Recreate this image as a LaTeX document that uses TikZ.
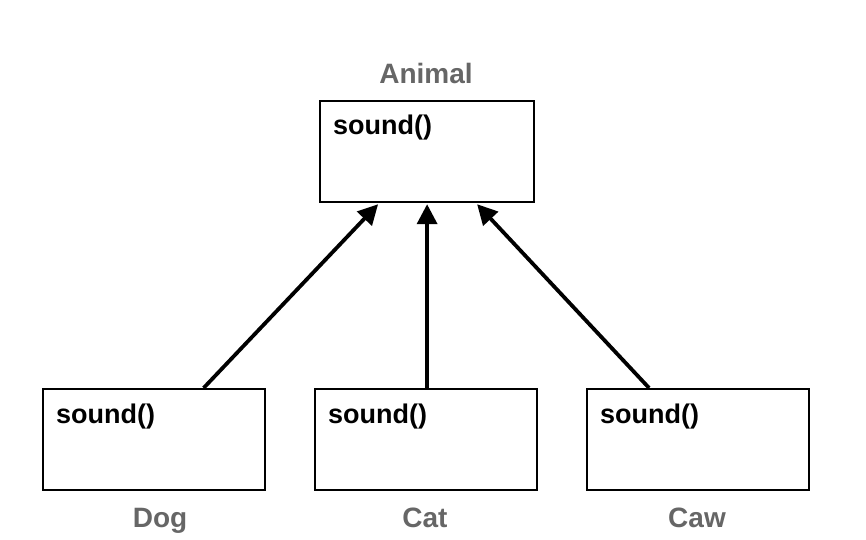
\documentclass[tikz,border=0pt]{standalone}
\usepackage{fontspec}
\setmainfont{Liberation Sans}
\usetikzlibrary{arrows.meta}
\definecolor{lblgray}{HTML}{666666}
\begin{document}
\begin{tikzpicture}[x=1pt,y=-1pt,
  classbox/.style={draw=black,line width=2.2pt,rectangle,anchor=north west,inner sep=0pt,minimum width=222pt,minimum height=101pt},
  method/.style={anchor=base west,inner sep=0pt,font=\fontsize{27}{30}\selectfont\bfseries,text=black},
  clslabel/.style={anchor=base,inner sep=0pt,font=\fontsize{28}{31}\selectfont\bfseries,text=lblgray},
  inherit/.style={line width=3.8pt,-{Triangle[length=20pt,width=20pt]}}]
\useasboundingbox (0,0) rectangle (866,539);
% boxes
\node[classbox,minimum width=214pt] (animal) at (319,100) {};
\node[classbox] (dog) at (42,388) {};
\node[classbox] (cat) at (314,388) {};
\node[classbox] (caw) at (586,388) {};
% methods
\node[method] (m0) at (333,134) {sound()};
\node[method] (m1) at (56,423) {sound()};
\node[method] (m2) at (328,423) {sound()};
\node[method] (m3) at (600,423) {sound()};
% labels
\node[clslabel] (l0) at (426,83) {Animal};
\node[clslabel] (l1) at (160,527) {Dog};
\node[clslabel] (l2) at (425,527) {Cat};
\node[clslabel] (l3) at (697,527) {Caw};
% arrows
\draw[inherit] ([xshift=49.5pt]dog.north) -- ([xshift=-49pt,yshift=-1pt]animal.south);
\draw[inherit] ([xshift=1pt]cat.north) -- ([xshift=1pt,yshift=-1pt]cat.north |- animal.south);
\draw[inherit] ([xshift=-49pt]caw.north) -- ([xshift=50pt,yshift=-1pt]animal.south);
\end{tikzpicture}
\end{document}
